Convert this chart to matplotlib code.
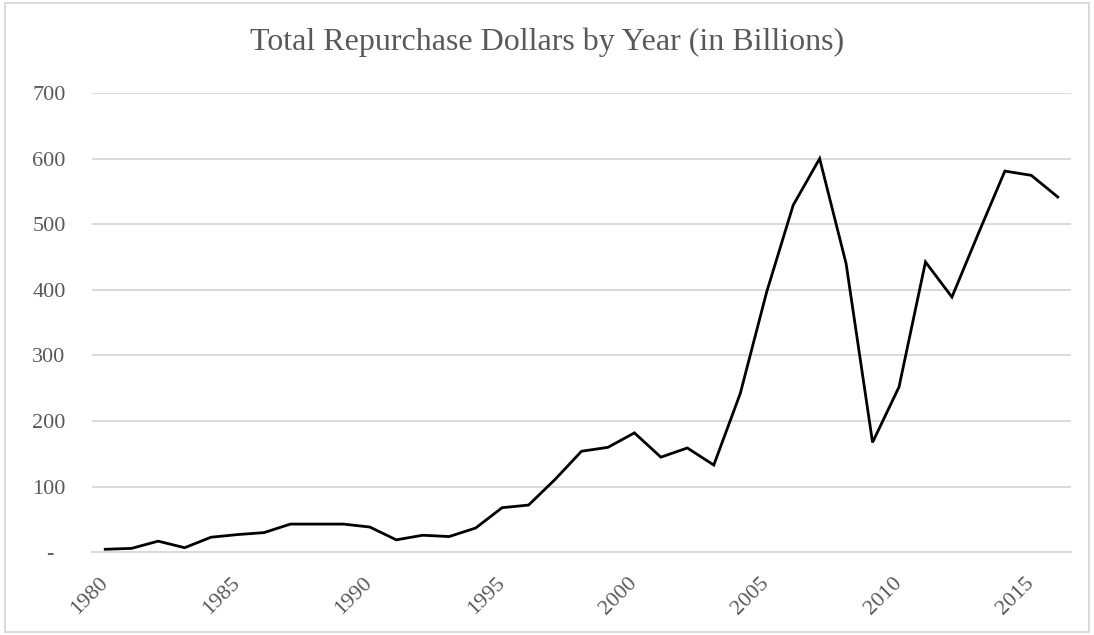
import matplotlib
matplotlib.use("Agg")
import matplotlib.pyplot as plt

years = list(range(1980, 2017))
repurchases = [4.6, 6, 17, 7, 23, 27, 30, 43, 43, 43, 38.5, 19, 26, 24, 37,
               68, 72, 111, 154, 160, 182, 145, 159, 133, 242, 397, 529, 600,
               440, 167.5, 252, 442.5, 389, 486, 581, 574.5, 541.5]
y_ticks = [0, 100, 200, 300, 400, 500, 600, 700]
y_tick_labels = ["-  ", "100", "200", "300", "400", "500", "600", "700"]
x_tick_years = [1980, 1985, 1990, 1995, 2000, 2005, 2010, 2015]
title = "Total Repurchase Dollars by Year (in Billions)"

text_color = "#595959"
grid_color = "#d9d9d9"
plt.rcParams["font.family"] = ["Liberation Serif", "DejaVu Serif"]

fig = plt.figure(figsize=(10.94, 6.35), dpi=100)
ax = fig.add_axes([92 / 1094, (635 - 552.3) / 635, (1071 - 92) / 1094, (552.3 - 93) / 635])

idx = list(range(len(years)))
ax.plot(idx, repurchases, color="black", lw=2.0, solid_joinstyle="miter", zorder=3)

ax.set_xlim(-0.5, len(years) - 0.5)
ax.set_ylim(0, 700)
ax.set_yticks(y_ticks)
ax.set_yticklabels(y_tick_labels)
ax.set_xticks([years.index(y) for y in x_tick_years])
ax.set_xticklabels([str(y) for y in x_tick_years], rotation=45, ha="right", va="center",
                   rotation_mode="anchor")

ax.grid(axis="y", color=grid_color, lw=1.4)
ax.set_axisbelow(True)
for s in ["top", "right", "left"]:
    ax.spines[s].set_visible(False)
ax.spines["bottom"].set_color(grid_color)
ax.spines["bottom"].set_linewidth(1.4)
ax.tick_params(axis="both", length=0, colors=text_color, labelsize=16)
ax.tick_params(axis="y", pad=19)
ax.tick_params(axis="x", pad=20)

fig.text(0.5, (635 - 42) / 635, title, ha="center", va="center", fontsize=23, color=text_color)

# chart border
border = plt.Rectangle((5 / 1094, 3 / 635), 1 - 10 / 1094, 1 - 6 / 635, transform=fig.transFigure,
                       fill=False, edgecolor=grid_color, lw=1.4)
fig.patches.append(border)

fig.savefig("out.png", dpi=100)
